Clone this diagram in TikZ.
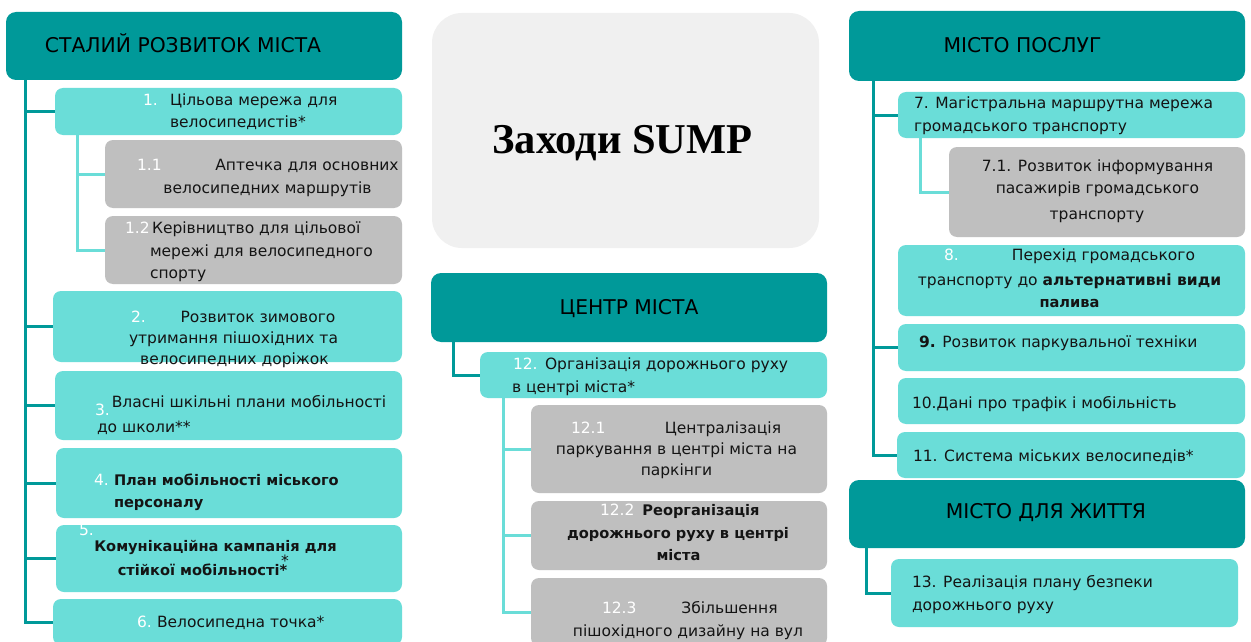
\documentclass[tikz,border=0pt]{standalone}
\usepackage{fontspec}
\setmainfont{DejaVu Sans}
\newfontfamily\titlefont{Liberation Serif}
\definecolor{dteal}{HTML}{009999}
\definecolor{lteal}{HTML}{6ADDD8}
\definecolor{gbox}{HTML}{BFBFBF}
\definecolor{sumpbg}{HTML}{F0F0F0}
\definecolor{txtc}{HTML}{141414}
\pgfdeclarelayer{back}\pgfdeclarelayer{bg}\pgfsetlayers{back,bg,main}
\newcounter{tn}
\newcommand\tx[4][]{\stepcounter{tn}\node[tx,#1] (t\arabic{tn}) at (#2,#3) {#4};}
\newcommand\tc[4][]{\stepcounter{tn}\node[txc,#1] (t\arabic{tn}) at (#2,#3) {#4};}
\newcommand\wn[1]{\textcolor{white}{#1}}
\newcommand\bx[6]{\pgfmathsetmacro\bxxc{(#3+#5)/2}\pgfmathsetmacro\bxyc{(#4+#6)/2}\pgfmathsetmacro\bxww{#5-#3}\pgfmathsetmacro\bxhh{#6-#4}\node[#1, minimum width=\bxww pt, minimum height=\bxhh pt] (#2) at (\bxxc,\bxyc) {};}
\begin{document}
\begin{tikzpicture}[x=1pt,y=-1pt,
 box/.style={rectangle, rounded corners=8pt, inner sep=0pt, outer sep=0pt},
 hdr/.style={box, fill=dteal, rounded corners=10pt},
 lbox/.style={box, fill=lteal},
 gbx/.style={box, fill=gbox},
 tx/.style={anchor=base west, inner sep=0pt, outer sep=0pt, text=txtc, font=\fontsize{15.5}{18}\selectfont},
 txc/.style={tx, anchor=base},
 bld/.style={font=\fontsize{14.6}{18}\selectfont\bfseries},
 htx/.style={tx, text=black, font=\fontsize{20.3}{24}\selectfont},
 conn/.style={draw=dteal, line width=3pt},
 sconn/.style={draw=lteal, line width=3pt}]
\useasboundingbox (0,0) rectangle (1251,642);
\clip (0,0) rectangle (1251,642);
\begin{pgfonlayer}{back}
\fill[white] (0,0) rectangle (1251,642);
\end{pgfonlayer}
% left column
\bx{hdr}{hL}{6}{12}{402}{80}
\bx{lbox}{b1}{55}{88}{402}{135}
\bx{gbx}{b11}{105}{140}{402}{208}
\bx{gbx}{b12}{105}{216}{402}{284}
\bx{lbox}{b2}{53}{291}{402}{362}
\bx{lbox}{b3}{55}{371}{402}{440}
\bx{lbox}{b4}{56}{448}{402}{518}
\bx{lbox}{b5}{56}{525}{402}{592}
\bx{lbox}{b6}{53}{599}{402}{645}
% centre
\bx{box, fill=sumpbg, rounded corners=30pt}{sump}{432}{13}{819}{248}
\bx{hdr}{hC}{431}{273}{827}{342}
\bx{lbox}{b12c}{480}{352}{827}{398}
\bx{gbx}{b121}{531}{405}{827}{493}
\bx{gbx}{b122}{531}{501}{827}{570}
\bx{gbx}{b123}{531}{578}{827}{646}
% right
\bx{hdr}{hR}{849}{11}{1245}{81}
\bx{lbox}{b7}{898}{92}{1245}{138}
\bx{gbx}{b71}{949}{147}{1245}{237}
\bx{lbox}{b8}{898}{245}{1245}{316}
\bx{lbox}{b9}{898}{324}{1245}{371}
\bx{lbox}{b10}{898}{378}{1245}{424}
\bx{lbox}{b11r}{897}{432}{1245}{478}
\bx{hdr}{hL2}{849}{480}{1245}{548}
\bx{lbox}{b13}{891}{559}{1238}{627}
% connectors
\begin{pgfonlayer}{bg}
\coordinate (jL) at (25,78);
\coordinate (jL1) at (77,133);
\coordinate (jC) at (453,340);
\coordinate (jC1) at (503,396);
\coordinate (jR) at (873,79);
\coordinate (jR1) at (920,136);
\coordinate (jR2) at (866,546);
\draw[conn] (jL) |- (b6);
\draw[conn] (jL) |- (b1);
\draw[conn] (jL) |- (b2);
\draw[conn] (jL) |- (b3);
\draw[conn] (jL) |- (b4);
\draw[conn] (jL) |- (b5);
\draw[sconn] (jL1) |- (b12);
\draw[sconn] (jL1) |- (b11);
\draw[conn] (jC) |- (b12c);
\draw[sconn] (jC1) |- (b123);
\draw[sconn] (jC1) |- (b121);
\draw[sconn] (jC1) |- (b122);
\draw[conn] (jR) |- (b11r);
\draw[conn] (jR) |- (b7);
\draw[conn] (jR) |- (b9);
\draw[sconn] (jR1) |- (b71);
\draw[conn] (jR2) |- (b13);
\end{pgfonlayer}
% header texts
\tx[htx]{45}{53}{СТАЛИЙ РОЗВИТОК МІСТА}
\tc[htx, anchor=base]{629}{314}{ЦЕНТР МІСТА}
\tc[htx, anchor=base]{1022.5}{53}{МІСТО ПОСЛУГ}
\tc[htx, anchor=base]{1046}{518}{МІСТО ДЛЯ ЖИТТЯ}
\node[anchor=base, inner sep=0pt, font=\titlefont\bfseries\fontsize{42.5}{48}\selectfont] (title) at (622.5,153) {Заходи SUMP};
% left texts
\tx{143}{106}{\wn{1.}}
\tx{170}{106}{Цільова мережа для}
\tx{170}{127}{велосипедистів*}
\tx{137}{170}{\wn{1.1}}
\tc{307}{170}{Аптечка для основних}
\tc{267.5}{193}{велосипедних маршрутів}
\tx{125}{233}{\wn{1.2}}
\tx{152}{233}{Керівництво для цільової}
\tx{150}{256}{мережі для велосипедного}
\tx{150}{278}{спорту}
\tx{131}{322}{\wn{2.}}
\tc{258}{322}{Розвиток зимового}
\tc{233.5}{343}{утримання пішохідних та}
\tc{234.5}{364}{велосипедних доріжок}
\tc{249}{407}{Власні шкільні плани мобільності}
\tx{95}{415}{\wn{3.}}
\tx{97}{432}{до школи**}
\tx{94}{485}{\wn{4.}}
\tx[bld]{114}{485}{План мобільності міського}
\tx[bld]{114}{507}{персоналу}
\tx{79}{535}{\wn{5.}}
\tc[bld]{215.5}{551}{Комунікаційна кампанія для}
\tc[bld]{202.5}{575}{стійкої мобільності*}
\tx{281}{566}{*}
\tx{137}{627}{\wn{6.}}
\tx{157}{627}{Велосипедна точка*}
% centre texts
\tx{513}{369}{\wn{12.}}
\tx{545}{369}{Організація дорожнього руху}
\tx{512}{392}{в центрі міста*}
\tx{571}{433}{\wn{12.1}}
\tc{723}{433}{Централізація}
\tc{676.5}{454}{паркування в центрі міста на}
\tc{676.5}{475}{паркінги}
\tx{600}{515}{\wn{12.2}}
\tc[bld]{701}{515}{Реорганізація}
\tc[bld]{678}{538}{дорожнього руху в центрі}
\tc[bld]{678.5}{560}{міста}
\tx{602}{613}{\wn{12.3}}
\tc{729.5}{613}{Збільшення}
\tc{688}{636}{пішохідного дизайну на вул}
% right texts
\tx{914}{109}{7. Магістральна маршрутна мережа}
\tx{914}{131}{громадського транспорту}
\tc{1097.5}{171}{7.1. Розвиток інформування}
\tc{1097.5}{193}{пасажирів громадського}
\tc{1097}{219}{транспорту}
\tx{944}{260}{\wn{8.}}
\tc{1103.5}{260}{Перехід громадського}
\tc{1069.5}{285}{транспорту до \textbf{альтернативні види}}
\tc[bld]{1069.5}{307}{палива}
\tx{919}{347}{\textbf{9.} Розвиток паркувальної техніки}
\tx{912}{408}{10.Дані про трафік і мобільність}
\tx{913}{461}{11. Система міських велосипедів*}
\tx{912}{587}{13. Реалізація плану безпеки}
\tx{912}{610}{дорожнього руху}
\end{tikzpicture}
\end{document}
